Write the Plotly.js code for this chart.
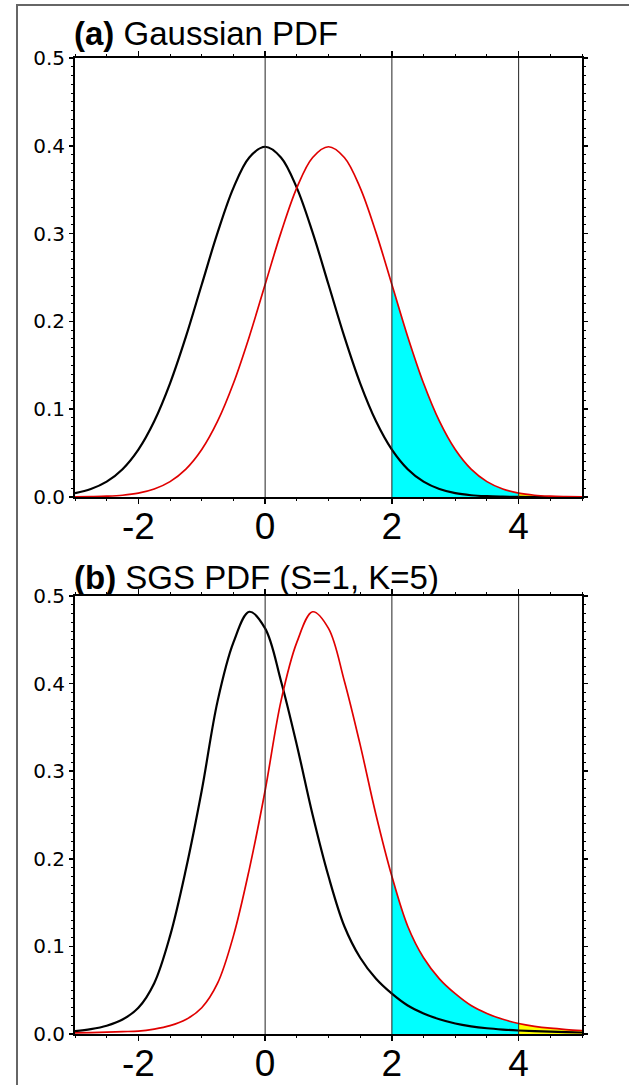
<!DOCTYPE html>
<html>
<head>
<meta charset="utf-8">
<script src="https://cdn.plot.ly/plotly-3.0.1.min.js"></script>
<style>html,body{margin:0;padding:0;background:#fff;}#chart{width:629px;height:1085px;}</style>
</head>
<body>
<div id="chart"></div>
<script>
// x grid shared by all curves
const xGrid = [-3,-2.75,-2.5,-2.25,-2,-1.75,-1.5,-1.25,-1,-0.75,-0.5,-0.25,0,0.25,0.5,0.75,1,1.25,1.5,1.75,2,2.25,2.5,2.75,3,3.25,3.5,3.75,4,4.25,4.5,4.75,5];

// Panel (a) Gaussian PDF
const gaussBlack = [0.0044,0.0091,0.0175,0.0317,0.0540,0.0863,0.1295,0.1826,0.2420,0.3011,0.3521,0.3867,0.3989,0.3867,0.3521,0.3011,0.2420,0.1826,0.1295,0.0863,0.0540,0.0317,0.0175,0.0091,0.0044,0.0020,0.0009,0.0004,0.0001,0.0000,0.0000,0.0000,0.0000];
const gaussRed   = [0.0001,0.0004,0.0009,0.0020,0.0044,0.0091,0.0175,0.0317,0.0540,0.0863,0.1295,0.1826,0.2420,0.3011,0.3521,0.3867,0.3989,0.3867,0.3521,0.3011,0.2420,0.1826,0.1295,0.0863,0.0540,0.0317,0.0175,0.0091,0.0044,0.0020,0.0009,0.0004,0.0001];

// Panel (b) SGS PDF (S=1, K=5)
const sgsBlack = [0.0033,0.0056,0.0095,0.0165,0.0300,0.0580,0.1120,0.1880,0.2780,0.3800,0.4470,0.4820,0.4630,0.4030,0.3300,0.2500,0.1800,0.1230,0.0870,0.0630,0.0460,0.0325,0.0235,0.0168,0.0120,0.0088,0.0066,0.0051,0.0040,0.0032,0.0026,0.0021,0.0017];
const sgsRed   = [0.0012,0.0016,0.0021,0.0027,0.0033,0.0056,0.0095,0.0165,0.0300,0.0580,0.1120,0.1880,0.2780,0.3800,0.4470,0.4820,0.4630,0.4030,0.3300,0.2500,0.1800,0.1230,0.0870,0.0630,0.0460,0.0325,0.0235,0.0168,0.0120,0.0088,0.0066,0.0051,0.0040];

// shaded tail ranges and reference lines
const cyanRange = [2, 4];
const yellowRange = [4, 5];
const refLines = [0, 2, 4];
const xTickVals = [-2, 0, 2, 4];
const xTickText = ['-2', '0', '2', '4'];
const yTickVals = [0, 0.1, 0.2, 0.3, 0.4, 0.5];
const yTickText = ['0.0', '0.1', '0.2', '0.3', '0.4', '0.5'];
const panelTitles = ['<b>(a)</b> Gaussian PDF', '<b>(b)</b> SGS PDF (S=1, K=5)'];

const FONT = 'Liberation Sans, Arial, Helvetica, sans-serif';
const YFONT = 'DejaVu Sans, Liberation Sans, Arial, sans-serif';

function sub(xs, ys, lo, hi) {
  const ox = [], oy = [];
  xs.forEach((v, i) => { if (v >= lo && v <= hi) { ox.push(v); oy.push(ys[i]); } });
  return {x: ox, y: oy};
}

const SM = 1;
function panelTraces(black, red, xa, ya) {
  const c = sub(xGrid, red, cyanRange[0], cyanRange[1]);
  const yl = sub(xGrid, red, yellowRange[0], yellowRange[1]);
  return [
    {x: c.x, y: c.y, xaxis: xa, yaxis: ya, type: 'scatter', mode: 'lines', fill: 'tozeroy',
     fillcolor: '#00FFFF', line: {width: 0, shape: 'spline', smoothing: SM}, hoverinfo: 'skip'},
    {x: yl.x, y: yl.y, xaxis: xa, yaxis: ya, type: 'scatter', mode: 'lines', fill: 'tozeroy',
     fillcolor: '#FFFF00', line: {width: 0, shape: 'spline', smoothing: SM}, hoverinfo: 'skip'},
    {x: xGrid, y: black, xaxis: xa, yaxis: ya, type: 'scatter', mode: 'lines',
     line: {color: '#000000', width: 2.2, shape: 'spline', smoothing: SM}},
    {x: xGrid, y: red, xaxis: xa, yaxis: ya, type: 'scatter', mode: 'lines',
     line: {color: '#E00000', width: 1.7, shape: 'spline', smoothing: SM}}
  ];
}

const data = [].concat(
  panelTraces(gaussBlack, gaussRed, 'x', 'y'),
  panelTraces(sgsBlack, sgsRed, 'x2', 'y2')
);

function xAxis(anchor) {
  return {
    anchor: anchor, domain: [0, 1], range: [-3, 5], tickmode: 'array',
    tickvals: xTickVals, ticktext: xTickText, ticklabelstandoff: -9,
    ticks: 'outside', ticklen: 5, tickwidth: 1.5, tickcolor: '#000',
    showline: true, linecolor: '#000', linewidth: 2, mirror: 'allticks',
    showgrid: false, zeroline: false,
    tickfont: {family: FONT, size: 37, color: '#000'},
    minor: {dtick: 0.5, tick0: 0, ticks: 'outside', ticklen: 2, tickwidth: 1, tickcolor: '#000', showgrid: false}
  };
}
function yAxis(anchor, dom) {
  return {
    anchor: anchor, domain: dom, range: [0, 0.5], tickmode: 'array',
    tickvals: yTickVals, ticktext: yTickText,
    ticks: 'outside', ticklen: 4, tickwidth: 1.5, tickcolor: '#000',
    showline: true, linecolor: '#000', linewidth: 2, mirror: 'allticks',
    showgrid: false, zeroline: false,
    tickfont: {family: YFONT, size: 20, color: '#000'},
    minor: {dtick: 0.01, tick0: 0, ticks: 'outside', ticklen: 2, tickwidth: 1, tickcolor: '#000', showgrid: false}
  };
}

const H = 1085, L = 75, R = 47, W = 629 - L - R;
const domA = [1 - 497 / H, 1 - 58 / H];
const domB = [1 - 1034 / H, 1 - 596 / H];

const shapes = [];
[['x', 'y'], ['x2', 'y2']].forEach(([xa, ya]) => {
  refLines.forEach(v => {
    shapes.push({type: 'line', xref: xa, yref: ya + ' domain', x0: v, x1: v, y0: 0, y1: 1,
      line: {color: '#222', width: 1}, layer: 'above'});
  });
});
// outer frame
shapes.push({type: 'rect', xref: 'paper', yref: 'paper',
  x0: (17 - L) / W, x1: 1.3, y0: -0.2, y1: 1 - 5 / H,
  line: {color: '#666', width: 2}, layer: 'below'});

const annotations = [
  {text: panelTitles[0], xref: 'paper', yref: 'paper', x: -0.006, y: 1 - 34 / H,
   xanchor: 'left', yanchor: 'middle', showarrow: false, font: {family: FONT, size: 33, color: '#000'}},
  {text: panelTitles[1], xref: 'paper', yref: 'paper', x: -0.006, y: 1 - 577 / H,
   xanchor: 'left', yanchor: 'middle', showarrow: false, font: {family: FONT, size: 33, color: '#000'}}
];

const layout = {
  width: 629, height: 1085,
  margin: {l: L, r: R, t: 0, b: 0},
  paper_bgcolor: '#fff', plot_bgcolor: '#fff',
  showlegend: false,
  xaxis: xAxis('y'), yaxis: yAxis('x', domA),
  xaxis2: xAxis('y2'), yaxis2: yAxis('x2', domB),
  shapes: shapes, annotations: annotations
};

Plotly.newPlot('chart', data, layout, {displayModeBar: false, staticPlot: true});
</script>
</body>
</html>
